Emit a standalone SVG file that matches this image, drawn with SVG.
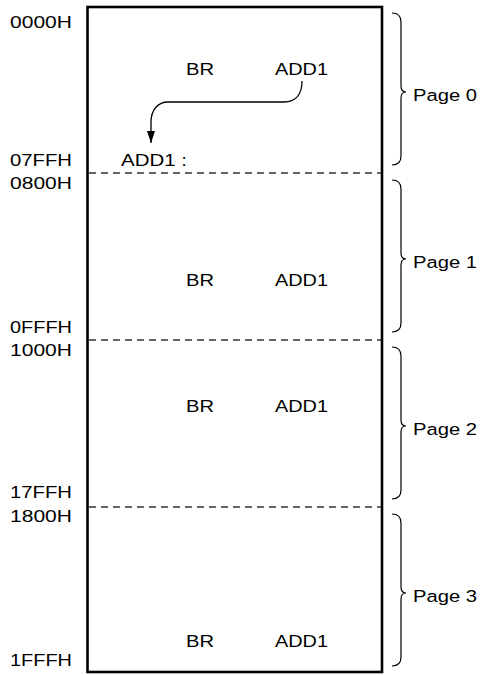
<svg xmlns="http://www.w3.org/2000/svg" width="482" height="675" viewBox="0 0 482 675">
<style>
text{font-family:"Liberation Sans",Arial,sans-serif;font-size:16.8px;fill:#000}
.addr{text-anchor:end}
.frame{fill:none;stroke:#000;stroke-width:2.6}
.dash{stroke:#333;stroke-width:1.3;stroke-dasharray:7 5;fill:none}
.brace{fill:none;stroke:#000;stroke-width:1.2}
.conn{fill:none;stroke:#000;stroke-width:1.3}
</style>
<defs>
<marker id="ah" markerUnits="userSpaceOnUse" markerWidth="12" markerHeight="8" refX="12" refY="4" orient="auto">
<path d="M0,0 L12,4 L0,8 z" fill="#000"/>
</marker>
</defs>
<rect x="0" y="0" width="482" height="675" fill="#fff"/>
<g id="memory">
<rect class="frame" x="87.5" y="7" width="294.5" height="665"/>
<line class="dash" x1="89" y1="173" x2="381" y2="173"/>
<line class="dash" x1="89" y1="340" x2="381" y2="340"/>
<line class="dash" x1="89" y1="507" x2="381" y2="507"/>
</g>
<g id="addresses">
<text class="addr" x="72" y="28" textLength="62" lengthAdjust="spacingAndGlyphs">0000H</text>
<text class="addr" x="72" y="166" textLength="62" lengthAdjust="spacingAndGlyphs">07FFH</text>
<text class="addr" x="72" y="189" textLength="62" lengthAdjust="spacingAndGlyphs">0800H</text>
<text class="addr" x="72" y="333" textLength="62" lengthAdjust="spacingAndGlyphs">0FFFH</text>
<text class="addr" x="72" y="356" textLength="62" lengthAdjust="spacingAndGlyphs">1000H</text>
<text class="addr" x="72" y="498" textLength="62" lengthAdjust="spacingAndGlyphs">17FFH</text>
<text class="addr" x="72" y="522" textLength="62" lengthAdjust="spacingAndGlyphs">1800H</text>
<text class="addr" x="72" y="666" textLength="62" lengthAdjust="spacingAndGlyphs">1FFFH</text>
</g>
<g id="page0">
<text x="186" y="75" textLength="28" lengthAdjust="spacingAndGlyphs">BR</text>
<text x="275" y="75" textLength="53" lengthAdjust="spacingAndGlyphs">ADD1</text>
<text x="121" y="166" textLength="66" lengthAdjust="spacingAndGlyphs">ADD1 :</text>
<path class="brace" d="M392,13 Q401,13 401,22 L401,86 Q401,92 406,92 Q401,92 401,98 L401,156 Q401,165 392,165"/>
<text x="413" y="101" textLength="64" lengthAdjust="spacingAndGlyphs">Page 0</text>
</g>
<g id="page1">
<text x="186" y="286" textLength="28" lengthAdjust="spacingAndGlyphs">BR</text>
<text x="275" y="286" textLength="53" lengthAdjust="spacingAndGlyphs">ADD1</text>
<path class="brace" d="M392,180 Q401,180 401,189 L401,253 Q401,259 406,259 Q401,259 401,265 L401,323 Q401,332 392,332"/>
<text x="413" y="268" textLength="64" lengthAdjust="spacingAndGlyphs">Page 1</text>
</g>
<g id="page2">
<text x="186" y="412" textLength="28" lengthAdjust="spacingAndGlyphs">BR</text>
<text x="275" y="412" textLength="53" lengthAdjust="spacingAndGlyphs">ADD1</text>
<path class="brace" d="M392,347 Q401,347 401,356 L401,420 Q401,426 406,426 Q401,426 401,432 L401,490 Q401,499 392,499"/>
<text x="413" y="435" textLength="64" lengthAdjust="spacingAndGlyphs">Page 2</text>
</g>
<g id="page3">
<text x="186" y="647" textLength="28" lengthAdjust="spacingAndGlyphs">BR</text>
<text x="275" y="647" textLength="53" lengthAdjust="spacingAndGlyphs">ADD1</text>
<path class="brace" d="M392,514 Q401,514 401,523 L401,587 Q401,593 406,593 Q401,593 401,599 L401,657 Q401,666 392,666"/>
<text x="413" y="602" textLength="64" lengthAdjust="spacingAndGlyphs">Page 3</text>
</g>
<g id="connectors">
<path class="conn" d="M302,81 C302,94 296,102 284,102 L168,102 C158,102 151,110 151,122 L151,143" marker-end="url(#ah)"/>
</g>
</svg>
